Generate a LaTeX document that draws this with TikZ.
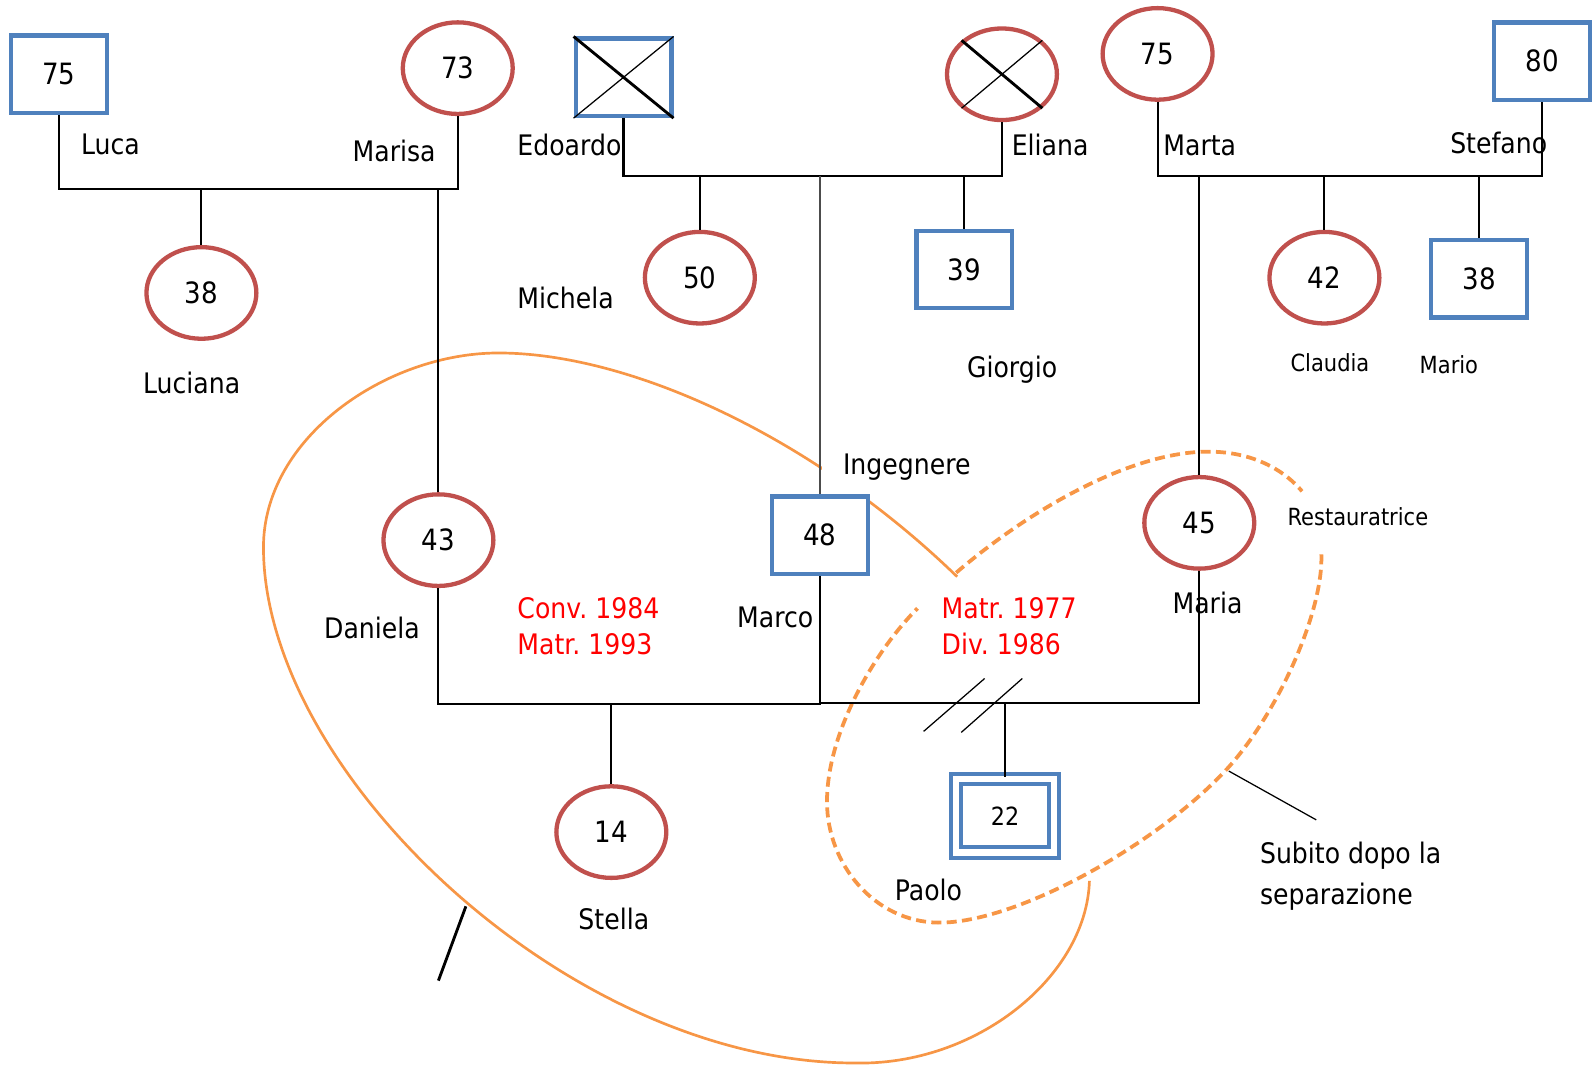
\documentclass[tikz,border=0pt]{standalone}
\usepackage{fontspec}
\setmainfont{DejaVu Sans}[FakeStretch=0.89]
\usetikzlibrary{shapes.geometric}
\definecolor{maschio}{HTML}{4F81BD}
\definecolor{femmina}{HTML}{C0504D}
\definecolor{arancio}{HTML}{F79646}
\tikzset{
  uomo/.style={rectangle, draw=maschio, line width=1.2pt, fill=white, minimum width=0.94cm, minimum height=0.76cm, inner sep=0pt, font=\fontsize{8.2}{10}\selectfont},
  donna/.style={ellipse, draw=femmina, line width=1.2pt, fill=white, minimum width=1.08cm, minimum height=0.90cm, inner sep=0pt, font=\fontsize{8.2}{10}\selectfont},
  figlio/.style={uomo, line width=1.1pt, double=white, double distance=1.8pt, minimum width=0.96cm, minimum height=0.72cm, font=\fontsize{7}{9}\selectfont},
  nome/.style={anchor=base west, inner sep=0pt, font=\fontsize{7.9}{9.5}\selectfont},
  piccolo/.style={anchor=base west, inner sep=0pt, font=\fontsize{6.6}{8}\selectfont},
  data/.style={nome, text=red},
  legame/.style={line width=0.6pt},
  morto/.style={line width=0.8pt},
  sottile/.style={line width=0.35pt},
  confine/.style={draw=arancio, line width=0.75pt},
  confinet/.style={draw=arancio, line width=1.05pt, dash pattern=on 2.8pt off 1.5pt}
}
\begin{document}
\frenchspacing
\begin{tikzpicture}[x=0.01cm, y=-0.01cm]
\useasboundingbox (0,0) rectangle (1568,1048);
\draw[confine] (1071,866) .. controls (1068,960) and (960,1048) .. (840,1045) .. controls (560,1045) and (259,760) .. (259,538) .. controls (259,430) and (380,347) .. (490,347) .. controls (620,347) and (800,430) .. (941,567);
\draw[confinet] (940,563) .. controls (1010,503) and (1110,444) .. (1188,444) .. controls (1235,444) and (1265,465) .. (1280,483);
\draw[confinet] (1299,545) .. controls (1301,600) and (1258,698) .. (1208,754) .. controls (1141,828) and (1000,908) .. (922,907) .. controls (860,906) and (813,850) .. (813,788) .. controls (813,720) and (860,640) .. (902,598);
\node[nome, fill=white, inner xsep=6pt, inner ysep=4pt] (ingegnere) at (807,466) {Ingegnere};
\node[uomo] (luca) at (58,73) {75};
\node[donna] (marisa) at (450,67) {73};
\node[uomo] (edoardo) at (613,76) {};
\node[donna] (eliana) at (985,73) {};
\node[donna] (marta) at (1138,53) {75};
\node[uomo] (stefano) at (1516,60) {80};
\node[donna] (luciana) at (198,288) {38};
\node[donna] (michela) at (688,273) {50};
\node[uomo] (giorgio) at (948,265) {39};
\node[donna] (claudia) at (1302,273) {42};
\node[uomo] (mario) at (1454,274) {38};
\node[donna] (daniela) at (431,531) {43};
\node[uomo] (marco) at (806,526) {48};
\node[donna] (maria) at (1179,514) {45};
\node[donna] (stella) at (601,818) {14};
\node[figlio] (paolo) at (988,802) {22};
\draw[morto] (edoardo.north west) -- (edoardo.south east);
\draw[sottile] (edoardo.south west) -- (edoardo.north east);
\draw[morto] (eliana.north west) -- (eliana.south east);
\draw[sottile] (eliana.south west) -- (eliana.north east);
\coordinate (lucamarisa) at (198,186);
\coordinate (edoardoeliana) at (688,173);
\coordinate (martastefano) at (1302,173);
\coordinate (danielamarco) at (601,692);
\coordinate (marcomaria) at (988,691);
\draw[legame] (luca.south) |- (lucamarisa) -| (marisa.south);
\draw[legame] (lucamarisa) -- (luciana.north);
\draw[legame] (daniela.north |- lucamarisa) -- (daniela.north);
\draw[legame] (edoardo.south) |- (edoardoeliana) -| (eliana.south);
\draw[legame] (edoardoeliana) -- (michela.north);
\draw[legame] (giorgio.north |- edoardoeliana) -- (giorgio.north);
\draw[sottile, black!70] (marco.north |- edoardoeliana) -- (marco.north);
\draw[legame] (marta.south) |- (martastefano) -| (stefano.south);
\draw[legame] (martastefano) -- (claudia.north);
\draw[legame] (mario.north |- martastefano) -- (mario.north);
\draw[legame] (maria.north |- martastefano) -- (maria.north);
\draw[legame] (daniela.south) |- (danielamarco) -| (marco.south);
\draw[legame] (danielamarco) -- (stella.north);
\draw[legame] (marco.south) |- (marcomaria) -| (maria.south);
\draw[legame] (marcomaria) -- (paolo.north);
\draw[sottile] (908,719) -- (968,667);
\draw[sottile] (945,720) -- (1005,667);
\coordinate (segno) at (458,891);
\coordinate (segnofine) at (431,964);
\draw[morto] (segno) -- (segnofine);
\coordinate (punta) at (1208,758);
\coordinate (nota) at (1294,806);
\draw[sottile] (punta) -- (nota);
\node[nome] (lucaL) at (79,152) {Luca};
\node[nome] (marisaL) at (346,159) {Marisa};
\node[nome] (edoardoL) at (508,153) {Edoardo};
\node[nome] (elianaL) at (994,153) {Eliana};
\node[nome] (martaL) at (1143,153) {Marta};
\node[nome] (stefanoL) at (1425,151) {Stefano};
\node[nome] (lucianaL) at (140,387) {Luciana};
\node[nome] (michelaL) at (508,303) {Michela};
\node[nome] (giorgioL) at (950,371) {Giorgio};
\node[piccolo] (claudiaL) at (1268,365) {Claudia};
\node[piccolo] (marioL) at (1395,367) {Mario};
\node[piccolo] (restauratrice) at (1265,517) {Restauratrice};
\node[nome] (danielaL) at (318,628) {Daniela};
\node[nome] (marcoL) at (724,617) {Marco};
\node[nome] (mariaL) at (1152,603) {Maria};
\node[data] (conv) at (508,608) {Conv. 1984};
\node[data] (matrA) at (508,643) {Matr. 1993};
\node[data] (matrB) at (925,608) {Matr. 1977};
\node[data] (div) at (925,643) {Div. 1986};
\node[nome] (stellaL) at (568,914) {Stella};
\node[nome] (paoloL) at (879,885) {Paolo};
\node[nome] (subito) at (1238,849) {Subito dopo la};
\node[nome] (separazione) at (1238,889) {separazione};
\end{tikzpicture}
\end{document}
